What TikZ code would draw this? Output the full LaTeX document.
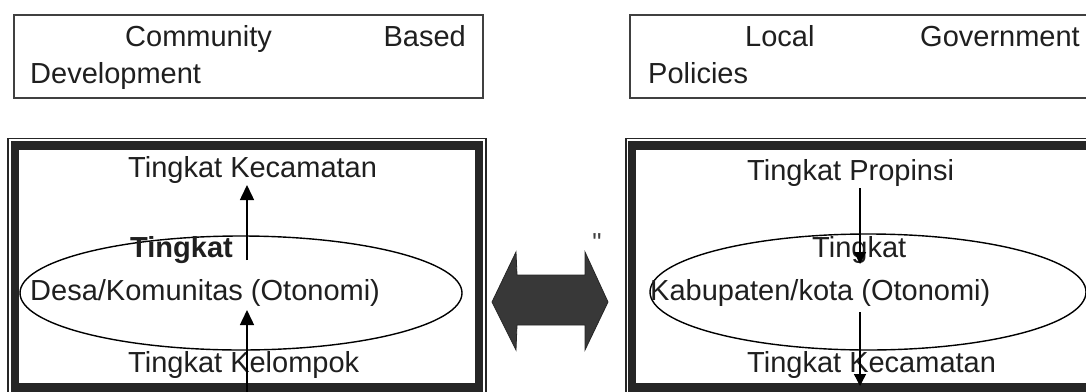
\documentclass[tikz,border=0pt]{standalone}
\usepackage{fontspec}
\setmainfont{Liberation Sans}
\newfontfamily\rawsans[Mapping=]{Liberation Sans}
\usetikzlibrary{arrows.meta}
\begin{document}
\begin{tikzpicture}[x=1pt,y=-1pt,
  lbl/.style={inner sep=0pt,font=\fontsize{29}{34}\selectfont,text=black!88},
  titlebox/.style={draw=black!75,line width=2.4pt},
  framethin/.style={draw=black!85,line width=1.6pt},
  framethick/.style={draw=black!85,line width=8.5pt},
  oval/.style={draw=black,line width=1.4pt},
  uparrow/.style={draw=black,line width=1.5pt,-{Triangle[width=14pt,length=15pt]}},
  downarrow/.style={draw=black,line width=1.4pt,-{Triangle[width=12pt,length=12pt]}},
  bigarrow/.style={fill=black!78,draw=black!85,line width=0.8pt}]
\useasboundingbox (0,0) rectangle (1086,391);
\clip (0,0) rectangle (1086,391);
\fill[white] (0,0) rectangle (1086,391);

% title boxes
\draw[titlebox] (14,15) rectangle (483,98);
\draw[titlebox] (630,15) rectangle (1100,98);
\node[lbl,anchor=base west] (cb1) at (125,46) {Community};
\node[lbl,anchor=base east] (cb2) at (466,46) {Based};
\node[lbl,anchor=base west] (cb3) at (30,83) {Development};
\node[lbl,anchor=base west] (lg1) at (745,46) {Local};
\node[lbl,anchor=base west] (lg2) at (920,46) {Government};
\node[lbl,anchor=base west] (lg3) at (648,83) {Policies};

% framed panels (thin outer line, thick inner band)
\draw[framethin] (8,138.5) rectangle (486,420);
\draw[framethick] (14.8,145.5) rectangle (479,387.5);
\draw[framethin] (626,138.5) rectangle (1110,420);
\draw[framethick] (631.8,145.5) rectangle (1110,387.5);

% ovals
\coordinate (ovL) at (241,293);
\coordinate (ovR) at (868,292);
\draw[oval] (ovL) ellipse [x radius=221pt, y radius=57pt];
\draw[oval] (ovR) ellipse [x radius=218pt, y radius=58pt];

% left panel texts
\node[lbl,anchor=base west] (kecL) at (128,177) {Tingkat Kecamatan};
\node[lbl,anchor=base west,font=\fontsize{29}{34}\selectfont\bfseries] (tkL) at (130,257) {Tingkat};
\node[lbl,anchor=base west] (desa) at (30,300) {Desa/Komunitas (Otonomi)};
\node[lbl,anchor=base west] (kel) at (128,372) {Tingkat Kelompok};

% right panel texts
\node[lbl,anchor=base west] (prop) at (747,180) {Tingkat Propinsi};
\node[lbl,anchor=base west] (tkR) at (812,257) {Tingkat};
\node[lbl,anchor=base west] (kab) at (650,300) {Kabupaten/kota (Otonomi)};
\node[lbl,anchor=base west] (kecR) at (747,372) {Tingkat Kecamatan};

% arrow ends
\coordinate (aL1s) at (247,260);
\coordinate (aL1e) at (247,185);
\coordinate (aL2s) at (247,395);
\coordinate (aL2e) at (247,310);
\coordinate (aR1s) at (860,188);
\coordinate (aR1e) at (860,264);
\coordinate (aR2s) at (860,312);
\coordinate (aR2e) at (860,386);
\draw[uparrow] (aL1s) -- (aL1e);
\draw[uparrow] (aL2s) -- (aL2e);
\draw[downarrow] (aR1s) -- (aR1e);
\draw[downarrow] (aR2s) -- (aR2e);

% two-way block arrow between the panels
\draw[bigarrow] (492,302) -- (516,252) -- (517,275) -- (585,275) -- (585,252)
  -- (608,302) -- (585,350) -- (585,325) -- (517,325) -- (516,350) -- cycle;
\node[inner sep=0pt,anchor=north,font=\rawsans\fontsize{26}{26}\selectfont,text=black!75] (qm) at (597,233) {"};
\end{tikzpicture}
\end{document}
